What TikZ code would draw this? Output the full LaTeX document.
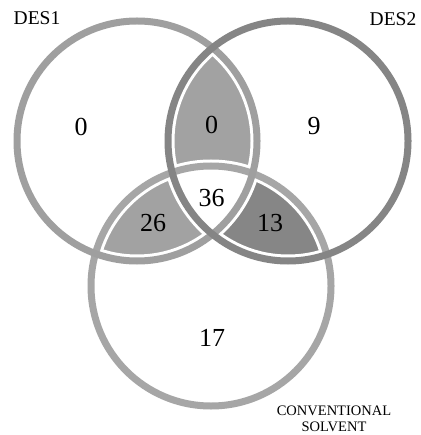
\documentclass[tikz,border=0pt]{standalone}
\usepackage{fontspec}
\setmainfont{Liberation Serif}
\usetikzlibrary{positioning}
\definecolor{ringone}{HTML}{9F9F9F}
\definecolor{ringtwo}{HTML}{858585}
\definecolor{ringthree}{HTML}{A6A6A6}
\definecolor{filltop}{HTML}{A2A2A2}
\definecolor{fillleft}{HTML}{A2A2A2}
\definecolor{fillright}{HTML}{868686}
\tikzset{
    ring/.style = {line width = 7pt},
    gap/.style = {white, line width = 13pt},
    num/.style = {font = {\fontsize{26}{26}\selectfont}, inner sep = 0pt},
    setname/.style = {font = {\fontsize{19.5}{20}\selectfont}, inner sep = 0pt},
    small/.style = {font = {\fontsize{14.5}{15}\selectfont}, inner sep = 0pt}
}
\begin{document}
\begin{tikzpicture}[x = 1pt, y = -1pt]
        \useasboundingbox (0,0) rectangle (420,435);
        \coordinate (des1) at (137,141);
        \coordinate (des2) at (288,141);
        \coordinate (conv) at (211,286);

        % overlaps
        \begin{scope}
            \clip (des1) circle (120pt);
            \fill[filltop] (des2) circle (120pt);
            \fill[fillleft] (conv) circle (120pt);
        \end{scope}
        \begin{scope}
            \clip (des2) circle (120pt);
            \fill[fillright] (conv) circle (120pt);
            \clip (des1) circle (120pt);
            \fill[white] (conv) circle (120pt);
        \end{scope}

        % rings
        \foreach \c in {des1,des2,conv}
            \draw[gap] (\c) circle (120pt);
        \draw[ring, ringthree] (conv) circle (120pt);
        \draw[ring, ringone] (des1) circle (120pt);
        \draw[ring, ringtwo] (des2) circle (120pt);

        \node[setname] (lab1) at (37,18.5) {DES1};
        \node[setname] (lab2) at (393,19.5) {DES2};
        \node[small] (lab3) at (334,410.5) {CONVENTIONAL};
        \node[small, below = 6pt of lab3] (lab3b) {SOLVENT};

        \node[num] (only1) at (81,126.5) {0};
        \node[num] (only2) at (314,126) {9};
        \node[num] (only3) at (212,338) {17};
        \node[num] (top) at (211.5,125) {0};
        \node[num] (left) at (153,223) {26};
        \node[num] (right) at (270,223) {13};
        \node[num] (mid) at (211.5,198) {36};
    \end{tikzpicture}
\end{document}
